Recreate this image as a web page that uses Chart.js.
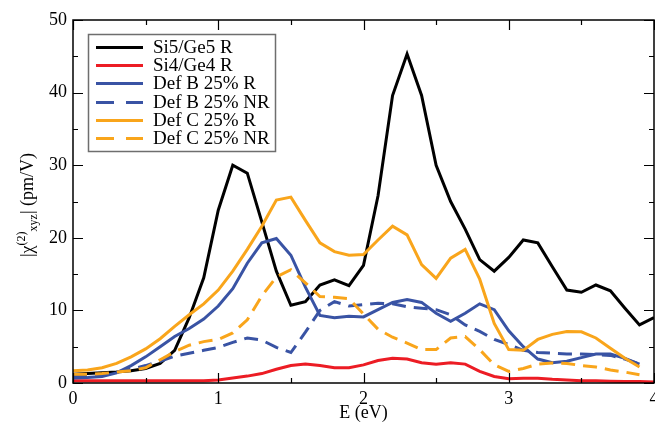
<!DOCTYPE html>
<html><head><meta charset="utf-8">
<script src="https://cdn.jsdelivr.net/npm/chart.js@4"></script>
<style>html,body{margin:0;padding:0;background:#fff}#wrap{width:655px;height:423px}</style>
</head><body><div id="wrap"><canvas id="c" width="655" height="423"></canvas></div>
<script>
const energies = [0.0,0.1,0.2,0.3,0.4,0.5,0.6,0.7,0.8,0.9,1.0,1.1,1.2,1.3,1.4,1.5,1.6,1.7,1.8,1.9,2.0,2.1,2.2,2.3,2.4,2.5,2.6,2.7,2.8,2.9,3.0,3.1,3.2,3.3,3.4,3.5,3.6,3.7,3.8,3.9,4.0];
const si5ge5R = [1.2,1.3,1.4,1.5,1.7,2.0,2.7,4.5,9.0,14.5,23.8,30.0,28.9,22.2,15.4,10.7,11.2,13.5,14.2,13.4,16.2,25.8,39.6,45.3,39.6,30.0,25.0,21.2,17.0,15.4,17.3,19.7,19.3,16.0,12.8,12.5,13.5,12.7,10.3,8.0,9.0];
const si4ge4R = [0.3,0.3,0.3,0.3,0.3,0.3,0.3,0.3,0.3,0.3,0.4,0.7,0.95,1.3,1.9,2.4,2.6,2.4,2.1,2.1,2.5,3.1,3.4,3.3,2.8,2.6,2.8,2.6,1.6,0.9,0.6,0.65,0.65,0.5,0.4,0.3,0.3,0.25,0.2,0.2,0.15];
const defB25R = [0.7,0.75,0.9,1.4,2.4,3.6,5.0,6.4,7.5,8.8,10.6,13.0,16.5,19.3,19.9,17.6,13.2,9.3,9.0,9.2,9.1,10.1,11.1,11.5,11.1,9.6,8.5,9.6,10.9,10.1,7.2,5.0,3.3,2.8,3.0,3.5,4.0,4.0,3.4,2.6];
const defB25NR = [0.9,1.0,1.2,1.5,1.9,2.4,3.0,3.7,4.1,4.5,4.9,5.6,6.2,5.9,4.9,4.2,7.0,10.0,11.2,10.6,10.8,11.0,10.9,10.5,10.3,10.1,9.4,8.0,7.1,6.0,5.3,4.5,4.2,4.1,4.0,4.0,3.9,3.8,3.3,2.6];
const defC25R = [1.7,1.8,2.1,2.7,3.6,4.7,6.1,7.8,9.4,10.9,12.8,15.4,18.4,21.6,25.2,25.6,22.4,19.3,18.1,17.6,17.7,19.7,21.6,20.4,16.3,14.4,17.2,18.4,14.3,8.2,4.6,4.5,6.0,6.7,7.1,7.05,6.2,4.8,3.4,2.2];
const defC25NR = [1.2,1.2,1.3,1.5,1.7,2.1,3.2,4.3,5.2,5.7,6.0,6.9,8.7,12.0,14.6,15.6,13.8,11.9,11.8,11.6,9.5,7.4,6.3,5.5,4.6,4.6,6.2,6.4,4.6,2.5,1.6,2.0,2.6,2.75,2.7,2.4,2.2,1.8,1.5,1.15];
const seriesLabels = ['Si5/Ge5 R','Si4/Ge4 R','Def B 25% R','Def B 25% NR','Def C 25% R','Def C 25% NR'];
const xTickValues = [0,1,2,3,4];
const yTickValues = [0,10,20,30,40,50];

const FONT = '"Liberation Serif", "Times New Roman", serif';
const BLACK = '#000000', RED = '#ec1c24', BLUE = '#3953a4', ORANGE = '#f9a51b';

function pts(vals){ return vals.map((v,i)=>({x: energies[i], y: v})); }
function ds(label, vals, color, dash, idx){
  return {label, data: pts(vals), borderColor: color, backgroundColor: color,
    borderWidth: 3, borderDash: dash, pointRadius: 0, tension: 0, fill: false,
    order: 10 - idx, borderCapStyle: 'butt', borderJoinStyle: 'miter'};
}

const framePlugin = {
  id: 'frame',
  afterDraw(chart){
    const {ctx, chartArea: a, scales} = chart;
    const xs = scales.x, ys = scales.y;
    ctx.save();
    ctx.strokeStyle = '#000'; ctx.lineWidth = 1.5;
    ctx.strokeRect(a.left, a.top, a.right - a.left, a.bottom - a.top);
    ctx.lineWidth = 1.2;
    ctx.beginPath();
    xTickValues.forEach((v, i) => {
      const px = Math.round(xs.getPixelForValue(v)) + 0.5;
      ctx.moveTo(px, a.bottom); ctx.lineTo(px, a.bottom - 10);
      ctx.moveTo(px, a.top); ctx.lineTo(px, a.top + 10);
      if (i < xTickValues.length - 1) {
        const mx = Math.round(xs.getPixelForValue((v + xTickValues[i+1]) / 2)) + 0.5;
        ctx.moveTo(mx, a.bottom); ctx.lineTo(mx, a.bottom - 5);
        ctx.moveTo(mx, a.top); ctx.lineTo(mx, a.top + 5);
      }
    });
    yTickValues.forEach((v, i) => {
      const py = Math.round(ys.getPixelForValue(v)) + 0.5;
      ctx.moveTo(a.left, py); ctx.lineTo(a.left + 10, py);
      ctx.moveTo(a.right, py); ctx.lineTo(a.right - 10, py);
      if (i < yTickValues.length - 1) {
        const my = Math.round(ys.getPixelForValue((v + yTickValues[i+1]) / 2)) + 0.5;
        ctx.moveTo(a.left, my); ctx.lineTo(a.left + 5, my);
        ctx.moveTo(a.right, my); ctx.lineTo(a.right - 5, my);
      }
    });
    ctx.stroke();

    // x title
    ctx.fillStyle = '#000';
    ctx.font = '18px ' + FONT;
    ctx.textAlign = 'center'; ctx.textBaseline = 'alphabetic';
    ctx.fillText('E (eV)', (a.left + a.right) / 2, 418);

    // y title with super/subscript
    const pieces = [
      {t: '|', s: 18, dy: 0},
      {t: 'χ', s: 18, dy: 0},
      {t: '(2)', s: 12, dy: -8},
      {t: 'xyz', s: 12, dy: 4},
      {t: '|', s: 18, dy: 0},
      {t: ' (pm/V)', s: 18, dy: 0}
    ];
    let total = 0;
    pieces.forEach(p => { ctx.font = p.s + 'px ' + FONT; p.w = ctx.measureText(p.t).width; total += p.w; });
    ctx.translate(33, 205);
    ctx.rotate(-Math.PI / 2);
    ctx.textAlign = 'left';
    let cx = -total / 2;
    pieces.forEach(p => { ctx.font = p.s + 'px ' + FONT; ctx.fillText(p.t, cx, p.dy); cx += p.w; });
    ctx.restore();

    // legend
    ctx.save();
    ctx.fillStyle = '#fff';
    ctx.fillRect(88, 34, 187, 117);
    ctx.strokeStyle = '#6e6e6e'; ctx.lineWidth = 1.5;
    ctx.strokeRect(88.5, 34.5, 187, 117);
    ctx.font = '19px ' + FONT; ctx.textAlign = 'left'; ctx.textBaseline = 'middle';
    chart.data.datasets.forEach((d, i) => {
      const y = Math.round(46.7 + i * 18.3) + 0.5;
      ctx.strokeStyle = d.borderColor; ctx.lineWidth = 3;
      ctx.setLineDash(d.borderDash && d.borderDash.length ? [18, 12] : []);
      ctx.beginPath(); ctx.moveTo(96, y); ctx.lineTo(143, y); ctx.stroke();
      ctx.setLineDash([]);
      ctx.fillStyle = '#000';
      ctx.fillText(d.label, 153, y + 1);
    });
    ctx.restore();
  }
};

new Chart(document.getElementById('c'), {
  type: 'line',
  data: {
    datasets: [
      ds(seriesLabels[0], si5ge5R, BLACK, [], 0),
      ds(seriesLabels[1], si4ge4R, RED, [], 1),
      ds(seriesLabels[2], defB25R, BLUE, [], 2),
      ds(seriesLabels[3], defB25NR, BLUE, [14, 8], 3),
      ds(seriesLabels[4], defC25R, ORANGE, [], 4),
      ds(seriesLabels[5], defC25NR, ORANGE, [14, 8], 5)
    ]
  },
  options: {
    responsive: false, animation: false, devicePixelRatio: 1,
    layout: {padding: {top: 20, right: 1, left: 0, bottom: 0}},
    plugins: {legend: {display: false}, tooltip: {enabled: false}},
    scales: {
      x: {
        type: 'linear', min: 0, max: 4,
        grid: {display: false, drawTicks: false},
        border: {display: false},
        afterFit(s){ s.height = 40; s.paddingLeft = 0; s.paddingRight = 0; },
        afterBuildTicks(s){ s.ticks = xTickValues.map(v => ({value: v})); },
        ticks: {color: '#000', font: {family: FONT, size: 18}, padding: 5, maxRotation: 0, autoSkip: false}
      },
      y: {
        type: 'linear', min: 0, max: 50,
        grid: {display: false, drawTicks: false},
        border: {display: false},
        afterFit(s){ s.width = 73; s.paddingTop = 0; s.paddingBottom = 0; },
        afterBuildTicks(s){ s.ticks = yTickValues.map(v => ({value: v})); },
        ticks: {color: '#000', font: {family: FONT, size: 18}, padding: 6, autoSkip: false}
      }
    }
  },
  plugins: [framePlugin]
});
</script>
</body></html>
